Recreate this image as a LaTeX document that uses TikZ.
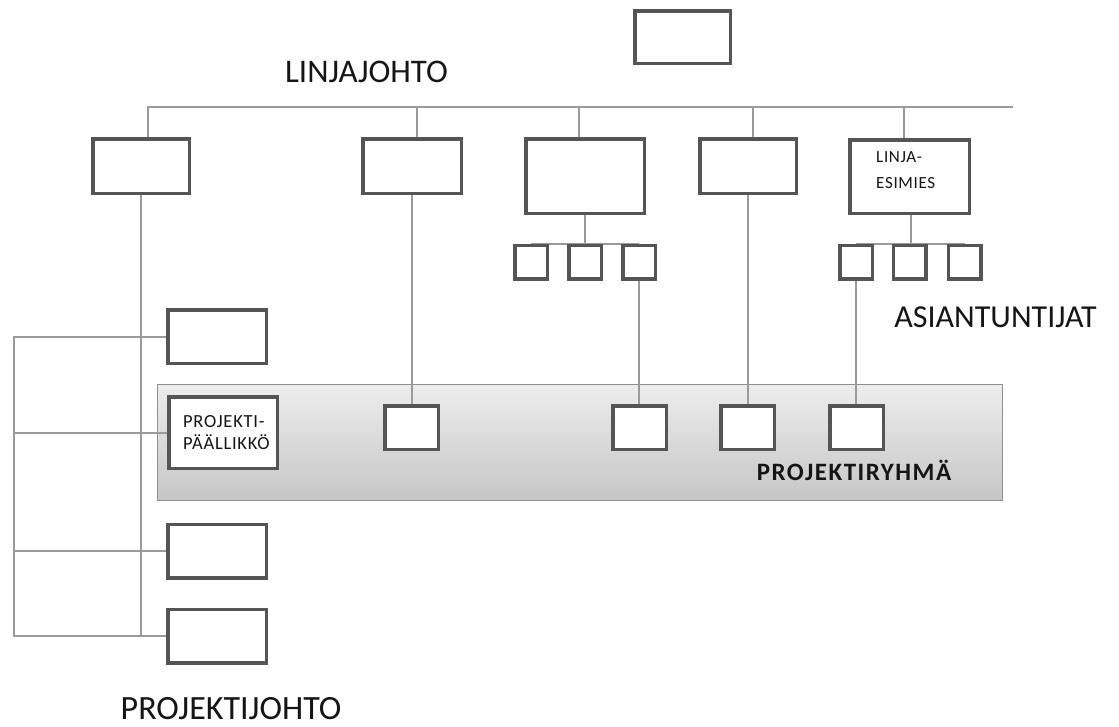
\documentclass[tikz,border=0pt]{standalone}
\usepackage{fontspec}
\setmainfont{Carlito}
\newfontfamily\spacedfont[LetterSpace=6]{Carlito}
\newfontfamily\smallspaced[LetterSpace=4]{Carlito}
\definecolor{boxc}{HTML}{555555}
\definecolor{linec}{HTML}{9A9A9A}
\definecolor{bandedge}{HTML}{8E8E8E}
\definecolor{bandtop}{HTML}{EDEDED}
\definecolor{bandbot}{HTML}{C6C6C6}
\definecolor{inkc}{HTML}{151515}
\pgfdeclarelayer{bg}
\pgfdeclarelayer{wires}
\pgfsetlayers{bg,wires,main}
\tikzset{
  box/.style={draw=boxc, line width=3.5pt, fill=white, inner sep=0pt},
  boxsize/.style 2 args={minimum width={#1pt-3.5pt}, minimum height={#2pt-3.5pt}},
  conn/.style={draw=linec, line width=2pt},
  band/.style={draw=bandedge, line width=1.4pt, top color=bandtop, bottom color=bandbot,
    inner sep=0pt, minimum width=845pt, minimum height=116pt},
  title/.style={text=inkc, inner sep=0pt, anchor=base},
  small/.style={text=inkc, inner sep=0pt, anchor=north west, align=left},
}
\begin{document}
\begin{tikzpicture}[x=1pt, y=-1pt]
\useasboundingbox (0,0) rectangle (1119,726);

% head box
\node[box, boxsize={99}{56}] (top) at (682.5,37) {};

% line managers
\node[box, boxsize={100}{58}] (A) at (141,166) {};
\node[box, boxsize={102}{58}] (B) at (412,166) {};
\node[box, boxsize={122}{78}] (C) at (585,176) {};
\node[box, boxsize={100}{58}] (D) at (748,166) {};
\node[box, boxsize={123}{77}] (E) at (909.5,176.5) {};
\node[small, font=\smallspaced\fontsize{17}{26}\selectfont] (Etext) at (876,151) {LINJA-\\ESIMIES};

% experts
\node[box, boxsize={36}{37}] (Cs1) at (531,262) {};
\node[box, boxsize={36}{37}] (Cs2) at (585,262) {};
\node[box, boxsize={36}{37}] (Cs3) at (639,262) {};
\node[box, boxsize={36}{37}] (Es1) at (856,262) {};
\node[box, boxsize={36}{37}] (Es2) at (909.5,262) {};
\node[box, boxsize={36}{37}] (Es3) at (964.5,262) {};

% project team band
\begin{pgfonlayer}{bg}
\node[band] (team) at (580,442.5) {};
\end{pgfonlayer}
\node[box, boxsize={112}{75}] (PM) at (223,432.5) {};
\node[small, font=\smallspaced\fontsize{18.5}{22}\selectfont] (PMtext) at (183,415) {PROJEKTI-\\PÄÄLLIKKÖ};
\node[box, boxsize={57}{47}] (Bp) at (411.5,427.5) {};
\node[box, boxsize={57}{47}] (Cp) at (639.5,427.5) {};
\node[box, boxsize={57}{47}] (Dp) at (747.5,427.5) {};
\node[box, boxsize={57}{47}] (Ep) at (856.5,427.5) {};

% project steering boxes
\node[box, boxsize={102}{57}] (L1) at (217,336.5) {};
\node[box, boxsize={102}{57}] (L3) at (217,551) {};
\node[box, boxsize={102}{57}] (L4) at (217,636) {};

% labels
\node[title, font=\fontsize{33}{40}\selectfont] (linjajohto) at (366.5,82) {LINJAJOHTO};
\node[title, font=\fontsize{32}{40}\selectfont] (experts) at (995.5,327) {ASIANTUNTIJAT};
\node[title, font=\fontsize{34}{40}\selectfont] (projektijohto) at (231,719.5) {PROJEKTIJOHTO};
\node[title, font=\spacedfont\bfseries\fontsize{25}{30}\selectfont] (teamlabel) at (854,480) {PROJEKTIRYHMÄ};

% connectors
\coordinate (busL) at (147,107);
\coordinate (busR) at (1013,107);
\coordinate (lb) at (13.5,0);
\begin{pgfonlayer}{wires}
\draw[conn] (busL) -- (busR);
\draw[conn] ([xshift=7pt]A.north) -- ([xshift=7pt]A.north |- busL);
\draw[conn] ([xshift=5pt]B.north) -- ([xshift=5pt]B.north |- busL);
\draw[conn] ([xshift=-6pt]C.north) -- ([xshift=-6pt]C.north |- busL);
\draw[conn] ([xshift=5pt]D.north) -- ([xshift=5pt]D.north |- busL);
\draw[conn] ([xshift=-5.5pt]E.north) -- ([xshift=-5.5pt]E.north |- busL);

\draw[conn] (C.south) -- (C.south |- Cs2.north);
\draw[conn] (Cs1.north) -- (Cs3.north);
\draw[conn] ([xshift=1.5pt]E.south) -- ([xshift=1.5pt]E.south |- Es2.north);
\draw[conn] (Es1.north) -- (Es3.north);

\draw[conn] (A.south) -- (A.south |- L4.west);
\draw[conn] (B.south) -- (B.south |- Bp.north);
\draw[conn] (Cs3.south) -- (Cs3.south |- Cp.north);
\draw[conn] (D.south) -- (D.south |- Dp.north);
\draw[conn] (Es1.south) -- (Es1.south |- Ep.north);

\draw[conn] (L1.west) -- (L1.west -| lb) -- (L4.west -| lb) -- (L4.west);
\draw[conn] (PM.west) -- (PM.west -| lb);
\draw[conn] (L3.west) -- (L3.west -| lb);
\end{pgfonlayer}
\end{tikzpicture}
\end{document}
